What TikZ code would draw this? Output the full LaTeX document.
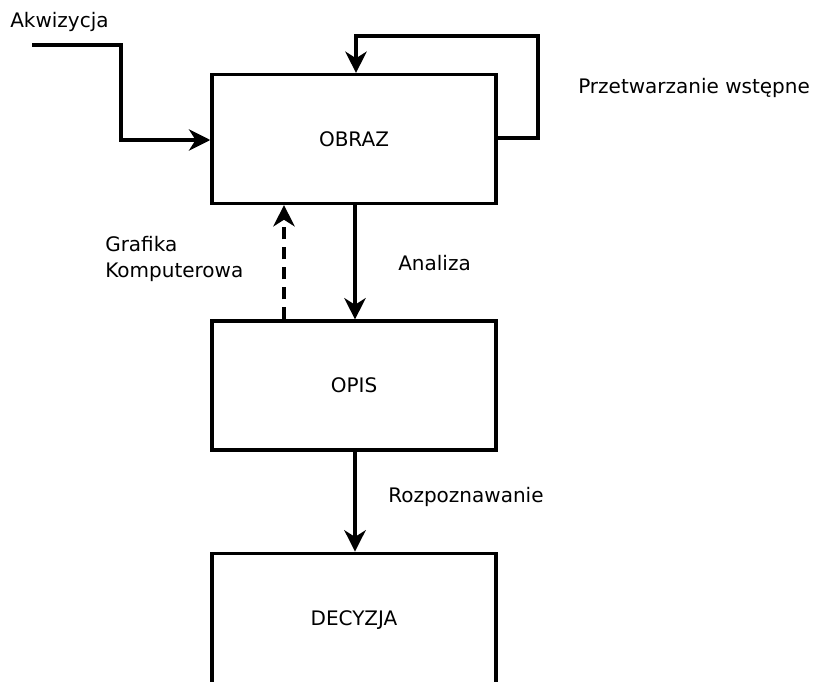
\documentclass[tikz,border=0pt]{standalone}
\usepackage{fontspec}
\setmainfont{DejaVu Sans}
\usetikzlibrary{arrows.meta}
\begin{document}
\begin{tikzpicture}[x=0.75pt,y=-0.75pt,
  box/.style={draw,line width=2.6pt,minimum width=213pt,minimum height=96.5pt,inner sep=0pt,font=\fontsize{15}{18}\selectfont},
  conn/.style={line width=2.6pt,-{Stealth[length=16pt,width=16pt,inset=5pt]}},
  lbl/.style={font=\fontsize{15}{19}\selectfont,inner sep=0pt}]
\useasboundingbox (0,0) rectangle (819,682);
\node[box] (obraz) at (354,139) {OBRAZ};
\node[box] (opis) at (354,385.5) {OPIS};
\node[box,minimum height=100pt] (decyzja) at (354,620) {DECYZJA};
\coordinate (start) at (32,45);
\draw[conn] (start) -| (121,140) -- (obraz.west |- 0,140);
\draw[conn] (obraz.east |- 0,138) -| (538,36) -| (obraz.north -| 356,0);
\draw[conn] (obraz.south -| 355,0) -- (opis.north -| 355,0);
\draw[conn,dashed,dash pattern=on 9pt off 6pt] (opis.north -| 284,0) -- (obraz.south -| 284,0);
\draw[conn] (opis.south -| 355,0) -- (decyzja.north -| 355,0);
\node[lbl,anchor=west] (akw) at (10,22) {Akwizycja};
\node[lbl,anchor=west] (prz) at (578,88) {Przetwarzanie wstępne};
\node[lbl,anchor=west,align=left] (graf) at (105,259) {Grafika\\Komputerowa};
\node[lbl,anchor=west] (anal) at (398,263) {Analiza};
\node[lbl,anchor=west] (rozp) at (388,497) {Rozpoznawanie};
\end{tikzpicture}
\end{document}
